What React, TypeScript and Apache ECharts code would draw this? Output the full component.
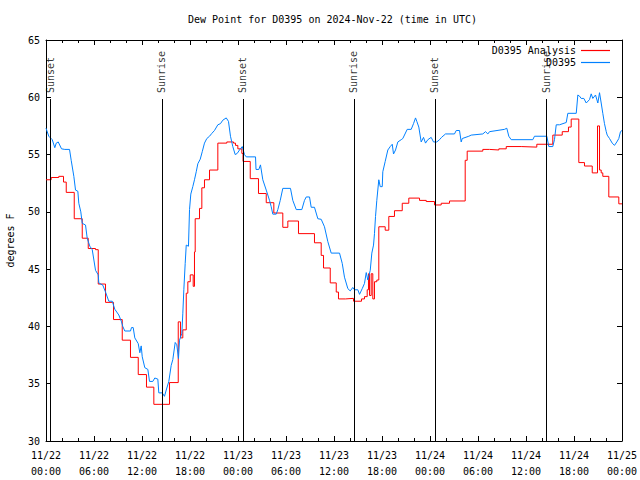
import React, { useEffect, useRef } from "react";
import * as echarts from "echarts";

const FONT = "DejaVu Sans Mono";

const titleText = "Dew Point for D0395 on 2024-Nov-22 (time in UTC)";
const yAxisName = "degrees F";
const seriesNames = ["D0395 Analysis", "D0395"];
const seriesColors = ["#ff0000", "#0080ff"];

// x tick labels every 6 hours from 11/22 00:00
const xTickDays = ["11/22", "11/22", "11/22", "11/22", "11/23", "11/23", "11/23", "11/23", "11/24", "11/24", "11/24", "11/24", "11/25"];
const xTickTimes = ["00:00", "06:00", "12:00", "18:00", "00:00", "06:00", "12:00", "18:00", "00:00", "06:00", "12:00", "18:00", "00:00"];

// sunrise / sunset events (hours since 11/22 00:00 UTC)
const sunEvents = [0.56, 14.48, 24.6, 38.48, 48.6, 62.53];
const sunLabels = ["Sunset", "Sunrise", "Sunset", "Sunrise", "Sunset", "Sunrise"];
const sunLineTop = 59.85;

// Analysis (red), [hours, degF], stepped
const analysis: [number, number][] = [
  [0, 52.8], [0.65, 53.0], [1.6, 53.1], [2.19, 52.6], [2.53, 51.7], [3.53, 49.4], [4.53, 47.7],
  [5.28, 46.8], [6.19, 46.7], [6.53, 43.7], [7.44, 42.1], [8.44, 40.6], [9.53, 38.8], [10.56, 37.3],
  [11.53, 35.8], [12.56, 34.7], [13.48, 33.2], [15.44, 35.1], [16.53, 40.4], [16.81, 39.0],
  [17.1, 39.7], [17.53, 42.9], [17.73, 43.9], [18.03, 44.5], [18.4, 43.5], [18.56, 46.5],
  [18.65, 49.4], [19.19, 50.3], [19.48, 52.1], [19.81, 52.8], [20.44, 53.65], [21.48, 56.0],
  [22.6, 56.1], [23.44, 56.0], [23.69, 55.8], [23.98, 55.5], [24.48, 55.1], [24.63, 54.4],
  [25.53, 52.9], [26.56, 51.6], [27.53, 50.8], [28.48, 49.9], [29.6, 48.65], [30.23, 49.2],
  [31.56, 48.1], [33.56, 47.3], [34.4, 46.2], [34.69, 45.1], [35.53, 43.8], [36.28, 43.0],
  [36.56, 42.4], [37.44, 42.45], [38.44, 42.2], [39.44, 42.4], [39.81, 42.6], [40.15, 43.2],
  [40.31, 44.6], [40.44, 42.7], [40.65, 44.6], [40.85, 42.4], [41.06, 43.9], [41.35, 44.05],
  [41.6, 48.7], [42.4, 48.4], [42.85, 49.6], [43.56, 50.1], [44.53, 50.75], [45.35, 51.2],
  [46.69, 51.0], [47.53, 50.9], [48.56, 50.6], [49.4, 50.75], [50.44, 50.95], [52.4, 54.5],
  [52.65, 55.3], [54.6, 55.45], [55.44, 55.4], [56.6, 55.5], [57.53, 55.7], [59.4, 55.65],
  [61.35, 55.9], [63.35, 56.7], [64.53, 57.0], [65.31, 57.4], [65.65, 58.1], [66.6, 54.3],
  [67.31, 54.0], [68.28, 53.4], [68.94, 57.5], [69.19, 53.65], [69.4, 53.4], [69.6, 53.1],
  [70.35, 51.3], [71.6, 50.7], [72, 50.7],
];

// Observations (blue), [hours, degF]
const observed: [number, number][] = [
  [0, 57.3], [0.35, 56.6], [0.78, 56.3], [1.1, 55.6], [1.28, 56.0], [1.53, 56.1], [1.94, 55.5],
  [2.35, 55.45], [2.94, 55.45], [3.15, 54.5], [3.48, 53.1], [3.69, 51.9], [3.98, 51.8], [4.1, 50.75],
  [4.35, 50.0], [4.53, 49.0], [4.94, 48.85], [5.15, 47.7], [5.48, 47.0], [5.78, 46.7], [6.19, 44.9],
  [6.53, 44.5], [6.6, 43.8], [7.1, 43.6], [7.44, 43.0], [7.85, 42.2], [8.28, 42.2], [8.6, 41.5],
  [9.1, 41.0], [9.44, 40.4], [9.6, 40.0], [9.85, 39.6], [10.56, 39.6], [10.69, 39.9], [10.9, 39.9],
  [11.1, 39.0], [11.53, 38.5], [11.73, 37.7], [11.9, 38.3], [12.03, 37.35], [12.35, 36.4],
  [12.73, 36.25], [12.94, 35.2], [13.35, 35.2], [13.6, 35.5], [13.98, 35.4], [14.1, 34.2],
  [14.53, 34.2], [14.81, 33.9], [15.03, 34.45], [15.35, 35.2], [15.65, 36.6], [15.85, 37.1],
  [16.15, 38.6], [16.35, 38.4], [16.56, 37.2], [16.69, 38.8], [16.98, 39.4], [17.1, 41.1],
  [17.23, 43.2], [17.4, 45.5], [17.53, 47.1], [17.81, 47.0], [17.94, 50.2], [18.1, 51.55],
  [18.35, 52.2], [18.56, 52.8], [18.78, 53.5], [18.98, 54.2], [19.28, 54.6], [19.53, 55.25],
  [19.81, 56.0], [20.1, 56.4], [20.44, 56.6], [20.73, 56.85], [21.06, 57.1], [21.48, 57.6],
  [21.81, 57.7], [22.1, 58.0], [22.53, 58.2], [22.81, 57.9], [23.06, 56.6], [23.35, 55.7],
  [23.65, 55.0], [23.9, 55.1], [24.19, 55.4], [24.53, 55.7], [24.81, 55.0], [25.03, 54.8],
  [26.19, 54.8], [26.25, 53.7], [26.6, 53.7], [26.81, 54.1], [27.1, 52.8], [27.53, 51.9],
  [27.94, 51.0], [28.15, 50.45], [28.35, 49.8], [28.78, 49.8], [28.98, 50.2], [29.28, 51.0],
  [29.6, 52.05], [30.56, 52.05], [30.85, 51.0], [31.28, 50.2], [31.98, 50.2], [32.31, 51.0],
  [32.53, 51.3], [32.94, 51.3], [33.15, 50.4], [33.56, 50.4], [33.98, 49.4], [34.4, 49.35],
  [34.81, 48.7], [35.23, 47.4], [35.65, 46.4], [36.69, 46.4], [37.03, 45.5], [37.31, 44.3],
  [37.73, 43.3], [38.03, 43.1], [38.35, 43.4], [38.56, 43.2], [38.98, 43.2], [39.19, 42.8],
  [39.53, 43.3], [39.81, 43.75], [40.03, 44.7], [40.23, 44.05], [40.53, 44.9], [40.73, 46.4],
  [40.94, 47.1], [41.06, 48.1], [41.19, 49.6], [41.35, 51.0], [41.6, 52.8], [41.78, 52.2],
  [42.03, 52.2], [42.1, 53.5], [42.4, 54.4], [42.73, 55.4], [43.03, 55.7], [43.28, 55.9],
  [43.44, 55.05], [43.69, 55.4], [43.98, 56.1], [44.4, 56.3], [44.6, 56.4], [45.15, 57.2],
  [45.65, 57.2], [45.94, 57.7], [46.19, 58.2], [46.35, 57.9], [46.6, 57.4], [46.9, 56.1],
  [47.19, 56.5], [47.44, 56.0], [47.73, 56.3], [48.15, 56.5], [48.44, 56.1], [48.85, 56.1],
  [49.19, 56.3], [49.44, 56.5], [49.94, 56.8], [51.06, 56.8], [51.28, 57.1], [51.69, 57.1],
  [51.9, 56.1], [52.03, 56.4], [52.85, 56.6], [53.15, 56.7], [54.6, 56.8], [54.94, 57.0],
  [55.23, 56.8], [55.44, 57.0], [57.31, 57.2], [57.6, 57.3], [57.85, 56.6], [58.15, 56.3],
  [60.85, 56.3], [61.06, 56.6], [62.6, 56.6], [62.85, 55.7], [63.35, 55.7], [63.56, 56.3],
  [63.78, 57.6], [64.19, 57.6], [65.03, 57.8], [65.23, 58.6], [66.28, 58.6], [66.48, 60.2],
  [66.69, 60.1], [66.9, 59.9], [67.23, 59.9], [67.53, 59.5], [67.94, 59.8], [68.15, 60.3],
  [68.35, 59.9], [68.69, 60.2], [68.98, 59.5], [69.19, 60.4], [69.4, 59.5], [69.6, 58.6],
  [69.81, 57.7], [70.03, 57.0], [70.15, 56.7], [70.44, 56.4], [70.78, 56.0], [71.06, 55.8],
  [71.35, 56.1], [71.6, 56.4], [71.81, 57.0], [72, 57.1],
];

const txt = { fontFamily: FONT, fontSize: 10, color: "#000" };

export default function App() {
  const ref = useRef<HTMLDivElement>(null);
  useEffect(() => {
    if (!ref.current) return;
    const chart = echarts.init(ref.current, undefined, { renderer: "svg" });
    const xLabel = (v: number) => {
      const i = Math.round(v / 6);
      return xTickDays[i] !== undefined ? xTickDays[i] + "\n" + xTickTimes[i] : "";
    };
    const axisLine = { show: true, onZero: false, lineStyle: { color: "#000", width: 1 } };
    chart.setOption({
      animation: false,
      backgroundColor: "#fff",
      title: {
        text: titleText,
        left: 188,
        top: 14,
        padding: 0,
        textStyle: { ...txt, fontWeight: "normal" },
      },
      legend: {
        data: seriesNames.map((n, i) => ({
          name: n,
          itemStyle: { color: seriesColors[i], borderWidth: 0 },
        })),
        orient: "vertical",
        right: 30,
        top: 45,
        padding: 0,
        align: "right",
        icon: "rect",
        itemWidth: 29,
        itemHeight: 1.2,
        itemGap: 1,
        textStyle: { ...txt, lineHeight: 11 },
      },
      grid: {
        left: 46,
        top: 40,
        width: 576,
        height: 401,
        containLabel: false,
        outerBoundsMode: "none",
      },
      xAxis: [
        {
          type: "value",
          min: 0,
          max: 72,
          interval: 6,
          axisLine,
          axisTick: { show: true, inside: true, length: 5, lineStyle: { color: "#000" } },
          minorTick: { show: true, splitNumber: 3, length: 3, lineStyle: { color: "#000" } },
          splitLine: { show: false },
          axisLabel: { ...txt, margin: 6, lineHeight: 16, formatter: xLabel },
        },
        {
          type: "value",
          position: "top",
          min: 0,
          max: 72,
          interval: 6,
          axisLine,
          axisTick: { show: true, inside: true, length: 5, lineStyle: { color: "#000" } },
          minorTick: { show: true, splitNumber: 3, length: 3, lineStyle: { color: "#000" } },
          splitLine: { show: false },
          axisLabel: { show: false },
        },
      ],
      yAxis: [
        {
          type: "value",
          min: 30,
          max: 65,
          interval: 5,
          name: yAxisName,
          nameLocation: "middle",
          nameGap: 31,
          nameTextStyle: txt,
          axisLine,
          axisTick: { show: true, inside: true, length: 5, lineStyle: { color: "#000" } },
          splitLine: { show: false },
          axisLabel: { ...txt, margin: 6 },
        },
        {
          type: "value",
          position: "right",
          min: 30,
          max: 65,
          interval: 5,
          axisLine,
          axisTick: { show: true, inside: true, length: 5, lineStyle: { color: "#000" } },
          splitLine: { show: false },
          axisLabel: { show: false },
        },
      ],
      series: [
        {
          name: "sun",
          type: "scatter",
          data: sunEvents.map((h, i) => ({ value: [h, sunLineTop], name: sunLabels[i] })),
          symbolSize: 0,
          silent: true,
          label: {
            show: true,
            position: "top",
            distance: 6,
            rotate: 90,
            align: "left",
            verticalAlign: "middle",
            formatter: "{b}",
            ...txt,
          },
          markLine: {
            silent: true,
            symbol: ["none", "none"],
            label: { show: false },
            lineStyle: { color: "#000", width: 1, type: "solid" },
            data: sunEvents.map((h) => [{ coord: [h, 30] }, { coord: [h, sunLineTop] }]),
          },
          z: 1,
        },
        {
          name: seriesNames[0],
          type: "line",
          step: "end",
          data: analysis,
          symbol: "none",
          color: seriesColors[0],
          lineStyle: { color: seriesColors[0], width: 1 },
          itemStyle: { color: seriesColors[0] },
          z: 2,
        },
        {
          name: seriesNames[1],
          type: "line",
          data: observed,
          symbol: "none",
          color: seriesColors[1],
          lineStyle: { color: seriesColors[1], width: 1 },
          itemStyle: { color: seriesColors[1] },
          z: 3,
        },
      ],
    });
    return () => chart.dispose();
  }, []);
  return (
    <div
      ref={ref}
      style={{ position: "fixed", left: 0, top: 0, width: 640, height: 480, background: "#fff" }}
    />
  );
}
